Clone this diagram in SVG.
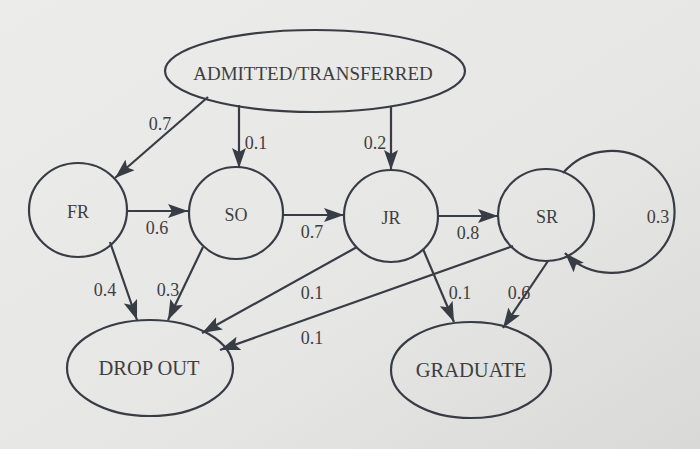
<svg xmlns="http://www.w3.org/2000/svg" width="700" height="449" viewBox="0 0 700 449">
<defs>
<linearGradient id="bg" x1="0" y1="0" x2="1" y2="1">
<stop offset="0" stop-color="#ececea"/>
<stop offset="0.6" stop-color="#e6e6e4"/>
<stop offset="1" stop-color="#d9d9d7"/>
</linearGradient>
<marker id="ah" markerUnits="userSpaceOnUse" markerWidth="22" markerHeight="16" refX="20" refY="7" orient="auto">
<path d="M0,0 L20,7 L0,14 L4,7 z" fill="#383c44"/>
</marker>
<style>
.n{fill:none;stroke:#383c44;stroke-width:2.2}
.t{fill:#3e3e40;text-anchor:middle;dominant-baseline:central}
.e{fill:none;stroke:#383c44;stroke-width:2.2;marker-end:url(#ah)}
.l{font-size:18px;fill:#3e3e40;text-anchor:middle;dominant-baseline:central}
</style>
</defs>
<rect width="700" height="449" fill="url(#bg)"/>
<g font-family="'Liberation Serif', 'DejaVu Serif', 'Times New Roman', serif">
<g id="connectors">
<line class="e" x1="208" y1="97" x2="115" y2="178"/>
<line class="e" x1="239" y1="105" x2="239" y2="168"/>
<line class="e" x1="391" y1="107" x2="391" y2="170"/>
<line class="e" x1="128" y1="211" x2="188" y2="211"/>
<line class="e" x1="283" y1="215" x2="344" y2="215"/>
<line class="e" x1="438" y1="216" x2="498" y2="216"/>
<path class="e" d="M563,173 A63,61 0 1,1 565,253"/>
<line class="e" x1="110" y1="242" x2="137" y2="320"/>
<line class="e" x1="203" y1="247" x2="168" y2="320"/>
<line class="e" x1="357" y1="247" x2="202" y2="333"/>
<line class="e" x1="513" y1="246" x2="220" y2="350"/>
<line class="e" x1="423" y1="249" x2="454" y2="322"/>
<line class="e" x1="548" y1="261" x2="503" y2="328"/>
<text class="l" x="160" y="124">0.7</text>
<text class="l" x="256" y="143">0.1</text>
<text class="l" x="375" y="143">0.2</text>
<text class="l" x="157" y="228">0.6</text>
<text class="l" x="312" y="232">0.7</text>
<text class="l" x="468" y="233">0.8</text>
<text class="l" x="658" y="217">0.3</text>
<text class="l" x="105" y="290">0.4</text>
<text class="l" x="168" y="290">0.3</text>
<text class="l" x="312" y="293">0.1</text>
<text class="l" x="312" y="338">0.1</text>
<text class="l" x="460" y="293">0.1</text>
<text class="l" x="519" y="293">0.6</text>
</g>
<g id="admitted">
<ellipse class="n" cx="315" cy="71" rx="150" ry="41"/>
<text class="t" x="313" y="73" font-size="19">ADMITTED/TRANSFERRED</text>
</g>
<g id="fr">
<ellipse class="n" cx="78" cy="210" rx="49" ry="47"/>
<text class="t" x="78" y="212" font-size="18">FR</text>
</g>
<g id="so">
<ellipse class="n" cx="236" cy="213" rx="47" ry="46"/>
<text class="t" x="236" y="215" font-size="18">SO</text>
</g>
<g id="jr">
<ellipse class="n" cx="391" cy="216" rx="47" ry="46"/>
<text class="t" x="391" y="218" font-size="18">JR</text>
</g>
<g id="sr">
<ellipse class="n" cx="546" cy="215" rx="48" ry="46"/>
<text class="t" x="547" y="217" font-size="18">SR</text>
</g>
<g id="dropout">
<ellipse class="n" cx="150" cy="368" rx="83" ry="48"/>
<text class="t" x="149" y="368" font-size="20.5">DROP OUT</text>
</g>
<g id="graduate">
<ellipse class="n" cx="471" cy="370" rx="80" ry="48"/>
<text class="t" x="471" y="370" font-size="20.5">GRADUATE</text>
</g>
</g>
</svg>
